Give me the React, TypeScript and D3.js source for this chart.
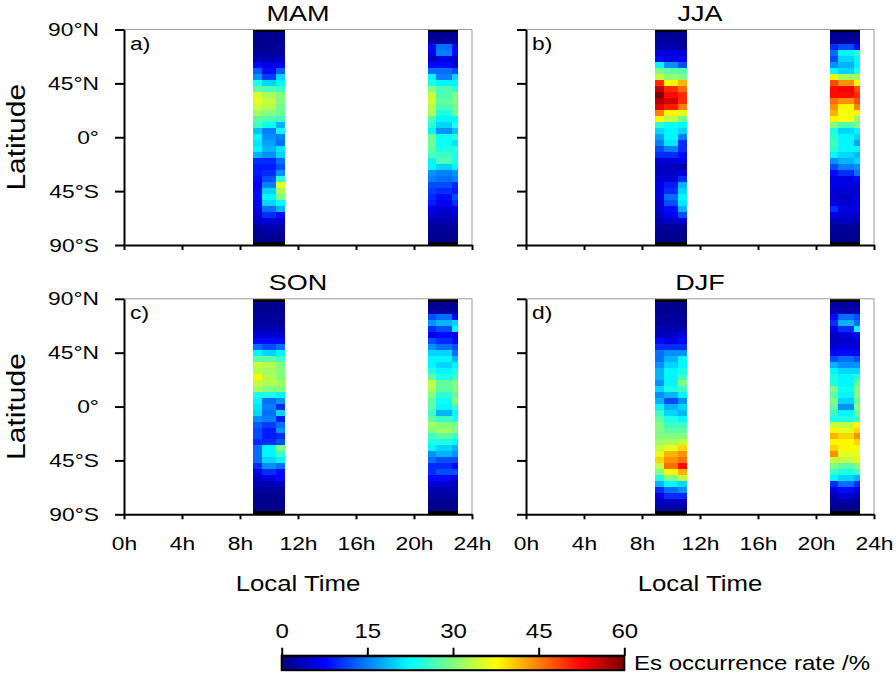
import React, { useEffect, useRef } from "react";
import * as d3 from "d3";

// season panels, read row by row from 85N down to 85S, 3 LT bins per strip
const seasons = ["MAM", "JJA", "SON", "DJF"];
const panelTags = ["a)", "b)", "c)", "d)"];
const latitudes = [
  85, 80, 75, 70, 65, 60, 55, 50, 45, 40, 35, 30, 25, 20, 15, 10, 5, 0,
  -5, -10, -15, -20, -25, -30, -35, -40, -45, -50, -55, -60, -65, -70, -75, -80, -85
];
const morningBins = [8.9, 9.5, 10.5, 11.1];
const eveningBins = [20.95, 21.55, 22.6, 23.0];

const mam09 = [
  [1, 1, 1], [1, 1, 1], [1, 1, 2], [2, 2, 2], [3, 3, 4], [8, 6, 7], [13, 8, 13], [16, 11, 20],
  [24, 20, 22], [28, 27, 26], [35, 32, 30], [36, 34, 30], [34, 33, 29], [32, 30, 29], [28, 27, 26],
  [26, 23, 18], [19, 15, 23], [22, 16, 15], [21, 17, 14], [22, 18, 21], [18, 16, 20], [10, 10, 14],
  [9, 9, 12], [9, 10, 16], [8, 12, 25], [7, 15, 36], [8, 20, 32], [8, 22, 30], [7, 20, 22],
  [6, 14, 18], [5, 10, 8], [4, 5, 5], [2, 3, 3], [1, 2, 2], [1, 1, 1]
];
const mam21 = [
  [1, 1, 1], [2, 2, 2], [8, 14, 8], [6, 15, 8], [4, 6, 4], [8, 8, 5], [14, 14, 12], [22, 15, 20],
  [24, 22, 22], [30, 27, 25], [34, 27, 30], [35, 28, 30], [33, 27, 29], [33, 24, 29], [27, 22, 22],
  [25, 20, 24], [22, 16, 19], [29, 23, 25], [29, 23, 21], [28, 24, 25], [27, 26, 24], [22, 27, 24],
  [22, 20, 22], [16, 15, 16], [15, 14, 15], [12, 12, 10], [11, 10, 9], [10, 8, 12], [9, 7, 10],
  [6, 5, 6], [5, 4, 5], [3, 3, 3], [2, 2, 2], [1, 1, 1], [1, 1, 1]
];
const jja09 = [
  [1, 1, 1], [2, 2, 2], [3, 3, 2], [5, 6, 5], [8, 6, 7], [22, 16, 12], [30, 28, 27], [34, 31, 30],
  [50, 38, 42], [56, 50, 46], [60, 52, 50], [57, 55, 50], [54, 51, 45], [45, 38, 36], [38, 34, 29],
  [25, 23, 22], [20, 22, 20], [17, 22, 15], [15, 21, 10], [12, 15, 10], [10, 10, 8], [5, 5, 6],
  [4, 4, 2], [4, 4, 6], [5, 5, 10], [6, 9, 18], [6, 10, 20], [6, 14, 22], [5, 12, 21],
  [5, 8, 18], [4, 7, 12], [3, 4, 5], [2, 2, 2], [1, 1, 1], [1, 1, 1]
];
const jja21 = [
  [1, 1, 1], [2, 2, 2], [10, 12, 8], [14, 22, 25], [12, 20, 22], [16, 18, 22], [22, 20, 24], [38, 32, 32],
  [48, 44, 38], [52, 53, 48], [52, 52, 50], [46, 44, 48], [44, 38, 45], [42, 37, 38], [38, 37, 31],
  [30, 27, 30], [24, 20, 22], [25, 22, 20], [26, 22, 17], [25, 22, 22], [22, 20, 18], [16, 18, 20],
  [12, 15, 16], [8, 10, 14], [6, 6, 8], [6, 6, 5], [5, 5, 5], [5, 4, 6], [6, 5, 6],
  [10, 6, 6], [6, 5, 5], [3, 4, 3], [2, 2, 2], [1, 1, 1], [1, 1, 1]
];
const son09 = [
  [1, 1, 1], [1, 1, 1], [2, 2, 2], [2, 2, 2], [3, 3, 3], [5, 5, 5], [8, 8, 8], [14, 12, 14],
  [22, 20, 22], [28, 28, 26], [34, 33, 30], [33, 32, 30], [38, 33, 30], [34, 33, 32], [32, 30, 30],
  [24, 24, 22], [22, 14, 16], [21, 15, 10], [20, 14, 20], [16, 15, 9], [13, 11, 14], [12, 9, 16],
  [12, 9, 10], [10, 10, 12], [14, 22, 30], [14, 22, 26], [14, 20, 22], [10, 16, 14], [6, 10, 8],
  [4, 6, 8], [3, 3, 4], [2, 2, 2], [1, 1, 1], [1, 1, 1], [1, 1, 1]
];
const son21 = [
  [1, 1, 1], [2, 2, 2], [12, 14, 8], [16, 18, 20], [10, 12, 22], [6, 8, 6], [12, 10, 8], [16, 14, 12],
  [20, 20, 14], [22, 22, 18], [22, 20, 22], [24, 22, 24], [28, 24, 26], [34, 28, 30], [33, 28, 30],
  [30, 25, 28], [28, 23, 30], [28, 22, 26], [26, 18, 22], [28, 26, 24], [32, 30, 30], [30, 32, 30],
  [26, 28, 26], [24, 24, 22], [22, 20, 18], [16, 18, 16], [14, 12, 12], [10, 10, 8], [10, 12, 12],
  [8, 8, 6], [5, 5, 3], [3, 3, 3], [2, 2, 2], [1, 1, 1], [1, 1, 1]
];
const djf09 = [
  [1, 1, 1], [1, 1, 1], [2, 2, 2], [2, 2, 2], [3, 3, 3], [4, 4, 6], [8, 6, 8], [10, 10, 10],
  [14, 16, 16], [14, 18, 22], [16, 20, 22], [18, 22, 24], [18, 22, 26], [16, 22, 30], [20, 24, 26],
  [16, 18, 22], [18, 12, 16], [22, 18, 20], [26, 20, 18], [28, 24, 22], [30, 26, 26], [30, 28, 28],
  [30, 30, 30], [32, 32, 34], [34, 36, 40], [36, 42, 44], [40, 44, 46], [34, 46, 52], [30, 38, 42],
  [24, 30, 34], [18, 22, 20], [10, 14, 16], [6, 10, 10], [4, 4, 4], [2, 2, 2]
];
const djf21 = [
  [2, 2, 2], [3, 3, 3], [8, 14, 12], [10, 18, 14], [6, 10, 22], [4, 6, 8], [4, 4, 6], [5, 6, 5],
  [8, 8, 8], [12, 14, 12], [18, 16, 16], [22, 20, 20], [24, 22, 24], [24, 22, 28], [30, 23, 30],
  [28, 22, 30], [30, 20, 28], [28, 16, 30], [26, 22, 28], [24, 24, 26], [34, 34, 38], [38, 36, 40],
  [42, 40, 44], [38, 38, 40], [40, 38, 38], [44, 36, 36], [34, 34, 36], [30, 28, 30], [26, 24, 26],
  [22, 20, 18], [10, 14, 10], [6, 8, 6], [3, 5, 4], [2, 2, 2], [1, 1, 1]
];
const seasonStrips = [
  [mam09, mam21],
  [jja09, jja21],
  [son09, son21],
  [djf09, djf21]
];

const latTicks = [90, 45, 0, -45, -90];
const latTickLabels = ["90°N", "45°N", "0°", "45°S", "90°S"];
const timeTicks = [0, 4, 8, 12, 16, 20, 24];
const timeTickLabels = ["0h", "4h", "8h", "12h", "16h", "20h", "24h"];
const barTicks = [0, 15, 30, 45, 60];

const font = "'Liberation Sans', Arial, Helvetica, sans-serif";
const wide = 1.2; // the original lettering is wider than Arial

// jet colormap over 0..60 %
const jet = d3
  .scaleLinear<string>()
  .domain([0, 7.5, 22.5, 37.5, 52.5, 60])
  .range(["#00007f", "#0000ff", "#00ffff", "#ffff00", "#ff0000", "#7f0000"])
  .clamp(true);

// move x/y into a transform so the glyphs can be widened in place
function widen(sel: d3.Selection<any, any, any, any>, rotate = 0) {
  sel.each(function () {
    const t = d3.select(this);
    const x = +t.attr("x") || 0;
    const y = +t.attr("y") || 0;
    t.attr("x", 0)
      .attr("y", 0)
      .attr(
        "transform",
        "translate(" + x + "," + y + ")" + (rotate ? " rotate(" + rotate + ")" : "") + " scale(" + wide + ",1)"
      );
  });
}

export default function App() {
  const ref = useRef<SVGSVGElement>(null);

  useEffect(() => {
    const w = 896;
    const h = 675;
    const panelW = 348;
    const panelH = 215.5;
    const lefts = [124, 526];
    const tops = [29.5, 298.8];

    const svg = d3.select(ref.current);
    svg.selectAll("*").remove();
    svg.attr("width", w).attr("height", h).style("font-family", font);

    const x = d3.scaleLinear().domain([0, 24]).range([0, panelW]);
    const y = d3.scaleLinear().domain([-90, 90]).range([panelH, 0]);

    seasons.forEach((season, p) => {
      const col = p % 2;
      const row = Math.floor(p / 2);
      const g = svg
        .append("g")
        .attr("transform", "translate(" + lefts[col] + "," + tops[row] + ")");

      [morningBins, eveningBins].forEach((bins, s) => {
        const values = seasonStrips[p][s];
        const cells = values.flatMap((r, i) =>
          r.map((v, j) => ({ lat: latitudes[i], t0: bins[j], t1: bins[j + 1], v }))
        );
        g.append("g")
          .selectAll("rect")
          .data(cells)
          .enter()
          .append("rect")
          .attr("x", d => x(d.t0))
          .attr("width", d => x(d.t1) - x(d.t0))
          .attr("y", d => y(d.lat + 2.5))
          .attr("height", d => y(d.lat - 2.5) - y(d.lat + 2.5))
          .attr("fill", d => jet(d.v))
          .attr("shape-rendering", "crispEdges");

        // no data at the poles
        g.selectAll(null)
          .data([[87.5, 90], [-90, -87.5]])
          .enter()
          .append("rect")
          .attr("x", x(bins[0]))
          .attr("width", x(bins[bins.length - 1]) - x(bins[0]))
          .attr("y", d => y(d[1]))
          .attr("height", d => y(d[0]) - y(d[1]))
          .attr("fill", "#000")
          .attr("shape-rendering", "crispEdges");
      });

      // thin top / right frame
      g.append("path")
        .attr("d", "M0,0H" + panelW + "V" + panelH)
        .attr("fill", "none")
        .attr("stroke", "#999")
        .attr("stroke-width", 1);

      const yAxis = d3
        .axisLeft(y)
        .tickValues(latTicks)
        .tickSize(9)
        .tickSizeOuter(0)
        .tickPadding(16)
        .tickFormat((d, i) => (col === 0 ? latTickLabels[i] : ""));
      const ya = g.append("g").call(yAxis);

      const xAxis = d3
        .axisBottom(x)
        .tickValues(timeTicks)
        .tickSize(5)
        .tickSizeOuter(0)
        .tickPadding(17.5)
        .tickFormat((d, i) => (row === 1 ? timeTickLabels[i] : ""));
      const xa = g.append("g").attr("transform", "translate(0," + panelH + ")").call(xAxis);

      [ya, xa].forEach(a => {
        a.select(".domain").attr("stroke-width", 2).attr("stroke", "#000");
        a.selectAll(".tick line").attr("stroke-width", 2).attr("stroke", "#000");
        const labels = a
          .selectAll(".tick text")
          .attr("font-size", 19)
          .attr("font-family", font)
          .attr("fill", "#000");
        widen(labels);
      });

      widen(
        g.append("text")
          .attr("x", panelW / 2)
          .attr("y", row === 0 ? -8.5 : -9)
          .attr("text-anchor", "middle")
          .attr("font-size", 22.5)
          .text(season)
      );

      widen(g.append("text").attr("x", 6).attr("y", 20).attr("font-size", 19).text(panelTags[p]));

      if (col === 0) {
        widen(
          g.append("text")
            .attr("x", 25 - lefts[0])
            .attr("y", panelH / 2)
            .attr("text-anchor", "middle")
            .attr("font-size", 25)
            .text("Latitude"),
          -90
        );
      }
      if (row === 1) {
        widen(
          g.append("text")
            .attr("x", panelW / 2)
            .attr("y", panelH + 77)
            .attr("text-anchor", "middle")
            .attr("font-size", 21.5)
            .text("Local Time")
        );
      }
    });

    // colour bar
    const cb = d3.scaleLinear().domain([0, 60]).range([281.7, 624.3]);
    const cbTop = 655.7;
    const cbH = 14.5;
    const grad = svg
      .append("defs")
      .append("linearGradient")
      .attr("id", "jetGrad")
      .attr("x1", "0%")
      .attr("x2", "100%");
    grad
      .selectAll("stop")
      .data(d3.range(0, 61, 2.5))
      .enter()
      .append("stop")
      .attr("offset", d => d / 60)
      .attr("stop-color", d => jet(d));

    svg
      .append("rect")
      .attr("x", cb(0))
      .attr("y", cbTop)
      .attr("width", cb(60) - cb(0))
      .attr("height", cbH)
      .attr("fill", "url(#jetGrad)")
      .attr("stroke", "#000")
      .attr("stroke-width", 2);

    const cbAxis = svg
      .append("g")
      .attr("transform", "translate(0," + cbTop + ")")
      .call(d3.axisTop(cb).tickValues(barTicks).tickSize(8).tickSizeOuter(0).tickPadding(10));
    cbAxis.select(".domain").attr("stroke-width", 2).attr("stroke", "#000");
    cbAxis.selectAll(".tick line").attr("stroke-width", 2).attr("stroke", "#000");
    widen(
      cbAxis
        .selectAll(".tick text")
        .attr("font-size", 20)
        .attr("font-family", font)
        .attr("fill", "#000")
    );

    widen(
      svg
        .append("text")
        .attr("x", 634)
        .attr("y", 670)
        .attr("font-size", 20)
        .text("Es occurrence rate /%")
    );
  }, []);

  return (
    <svg
      ref={ref}
      style={{ position: "absolute", left: 0, top: 0, background: "#fff" }}
    />
  );
}
